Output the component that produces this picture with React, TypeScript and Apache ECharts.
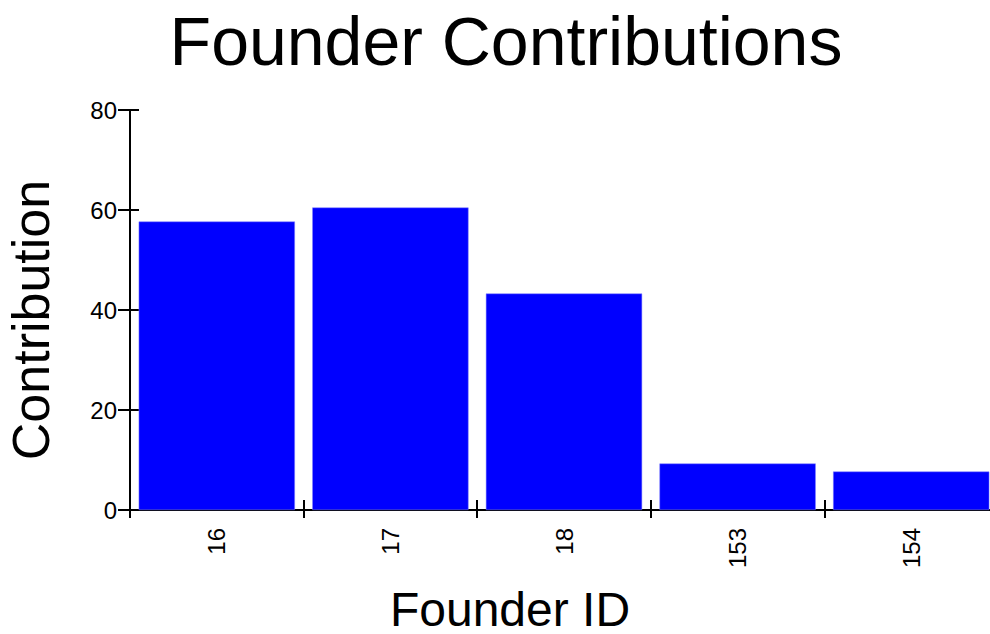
import React, { useEffect, useRef } from "react";
import * as echarts from "echarts";

const categories = ["16", "17", "18", "153", "154"];
const contributions = [57.7, 60.5, 43.3, 9.3, 7.7];
const yTicks = { min: 0, max: 80, interval: 20 };
const titleText = "Founder Contributions";
const xName = "Founder ID";
const yName = "Contribution";

const FONT = "'Liberation Sans', Arial, Helvetica, sans-serif";

export default function App() {
  const ref = useRef<HTMLDivElement>(null);
  useEffect(() => {
    if (!ref.current) return;
    const chart = echarts.init(ref.current, null, { renderer: "svg" });
    const grid = { left: 130, top: 110, width: 868, height: 400 };
    chart.setOption({
      animation: false,
      backgroundColor: "#ffffff",
      grid,
      xAxis: [
        {
          type: "category",
          data: categories,
          position: "bottom",
          axisLine: { show: true, lineStyle: { color: "#000", width: 2 } },
          axisTick: { show: true, inside: false, length: 8, lineStyle: { color: "#000", width: 2 } },
          axisLabel: {
            rotate: 90,
            margin: 18,
            color: "#000",
            fontSize: 24,
            fontFamily: FONT,
          },
          splitLine: { show: false },
        },
        {
          type: "category",
          data: categories,
          position: "bottom",
          axisLine: { show: false },
          axisTick: { show: true, inside: true, length: 10, lineStyle: { color: "#000", width: 2 } },
          axisLabel: { show: false },
          splitLine: { show: false },
        },
      ],
      yAxis: [
        {
          type: "value",
          min: yTicks.min,
          max: yTicks.max,
          interval: yTicks.interval,
          position: "left",
          axisLine: { show: true, lineStyle: { color: "#000", width: 2 } },
          axisTick: { show: true, inside: false, length: 12, lineStyle: { color: "#000", width: 2 } },
          axisLabel: {
            margin: 13,
            color: "#000",
            fontSize: 24,
            fontFamily: FONT,
          },
          splitLine: { show: false },
        },
        {
          type: "value",
          min: yTicks.min,
          max: yTicks.max,
          interval: yTicks.interval,
          position: "left",
          axisLine: { show: false },
          axisTick: { show: true, inside: true, length: 9, lineStyle: { color: "#000", width: 2 } },
          axisLabel: { show: false },
          splitLine: { show: false },
        },
      ],
      series: [
        {
          type: "bar",
          data: contributions,
          xAxisIndex: 0,
          yAxisIndex: 0,
          barCategoryGap: "10%",
          itemStyle: { color: "#0000ff", borderColor: "#8080ff", borderWidth: 0.5 },
          z: 1,
        },
      ],
      graphic: [
        {
          type: "text",
          x: 506,
          y: 41,
          style: {
            text: titleText,
            fill: "#000",
            font: `68px ${FONT}`,
            textAlign: "center",
            textVerticalAlign: "middle",
          },
        },
        {
          type: "text",
          x: 31,
          y: 320,
          rotation: Math.PI / 2,
          style: {
            text: yName,
            fill: "#000",
            font: `52px ${FONT}`,
            textAlign: "center",
            textVerticalAlign: "middle",
          },
        },
        {
          type: "text",
          x: 510,
          y: 609,
          style: {
            text: xName,
            fill: "#000",
            font: `48px ${FONT}`,
            textAlign: "center",
            textVerticalAlign: "middle",
          },
        },
      ],
    });
    return () => chart.dispose();
  }, []);
  return (
    <div
      style={{
        position: "fixed",
        left: 0,
        top: 0,
        width: 990,
        height: 634,
        overflow: "hidden",
        background: "#fff",
      }}
    >
      <div ref={ref} style={{ width: 1000, height: 634 }} />
    </div>
  );
}
